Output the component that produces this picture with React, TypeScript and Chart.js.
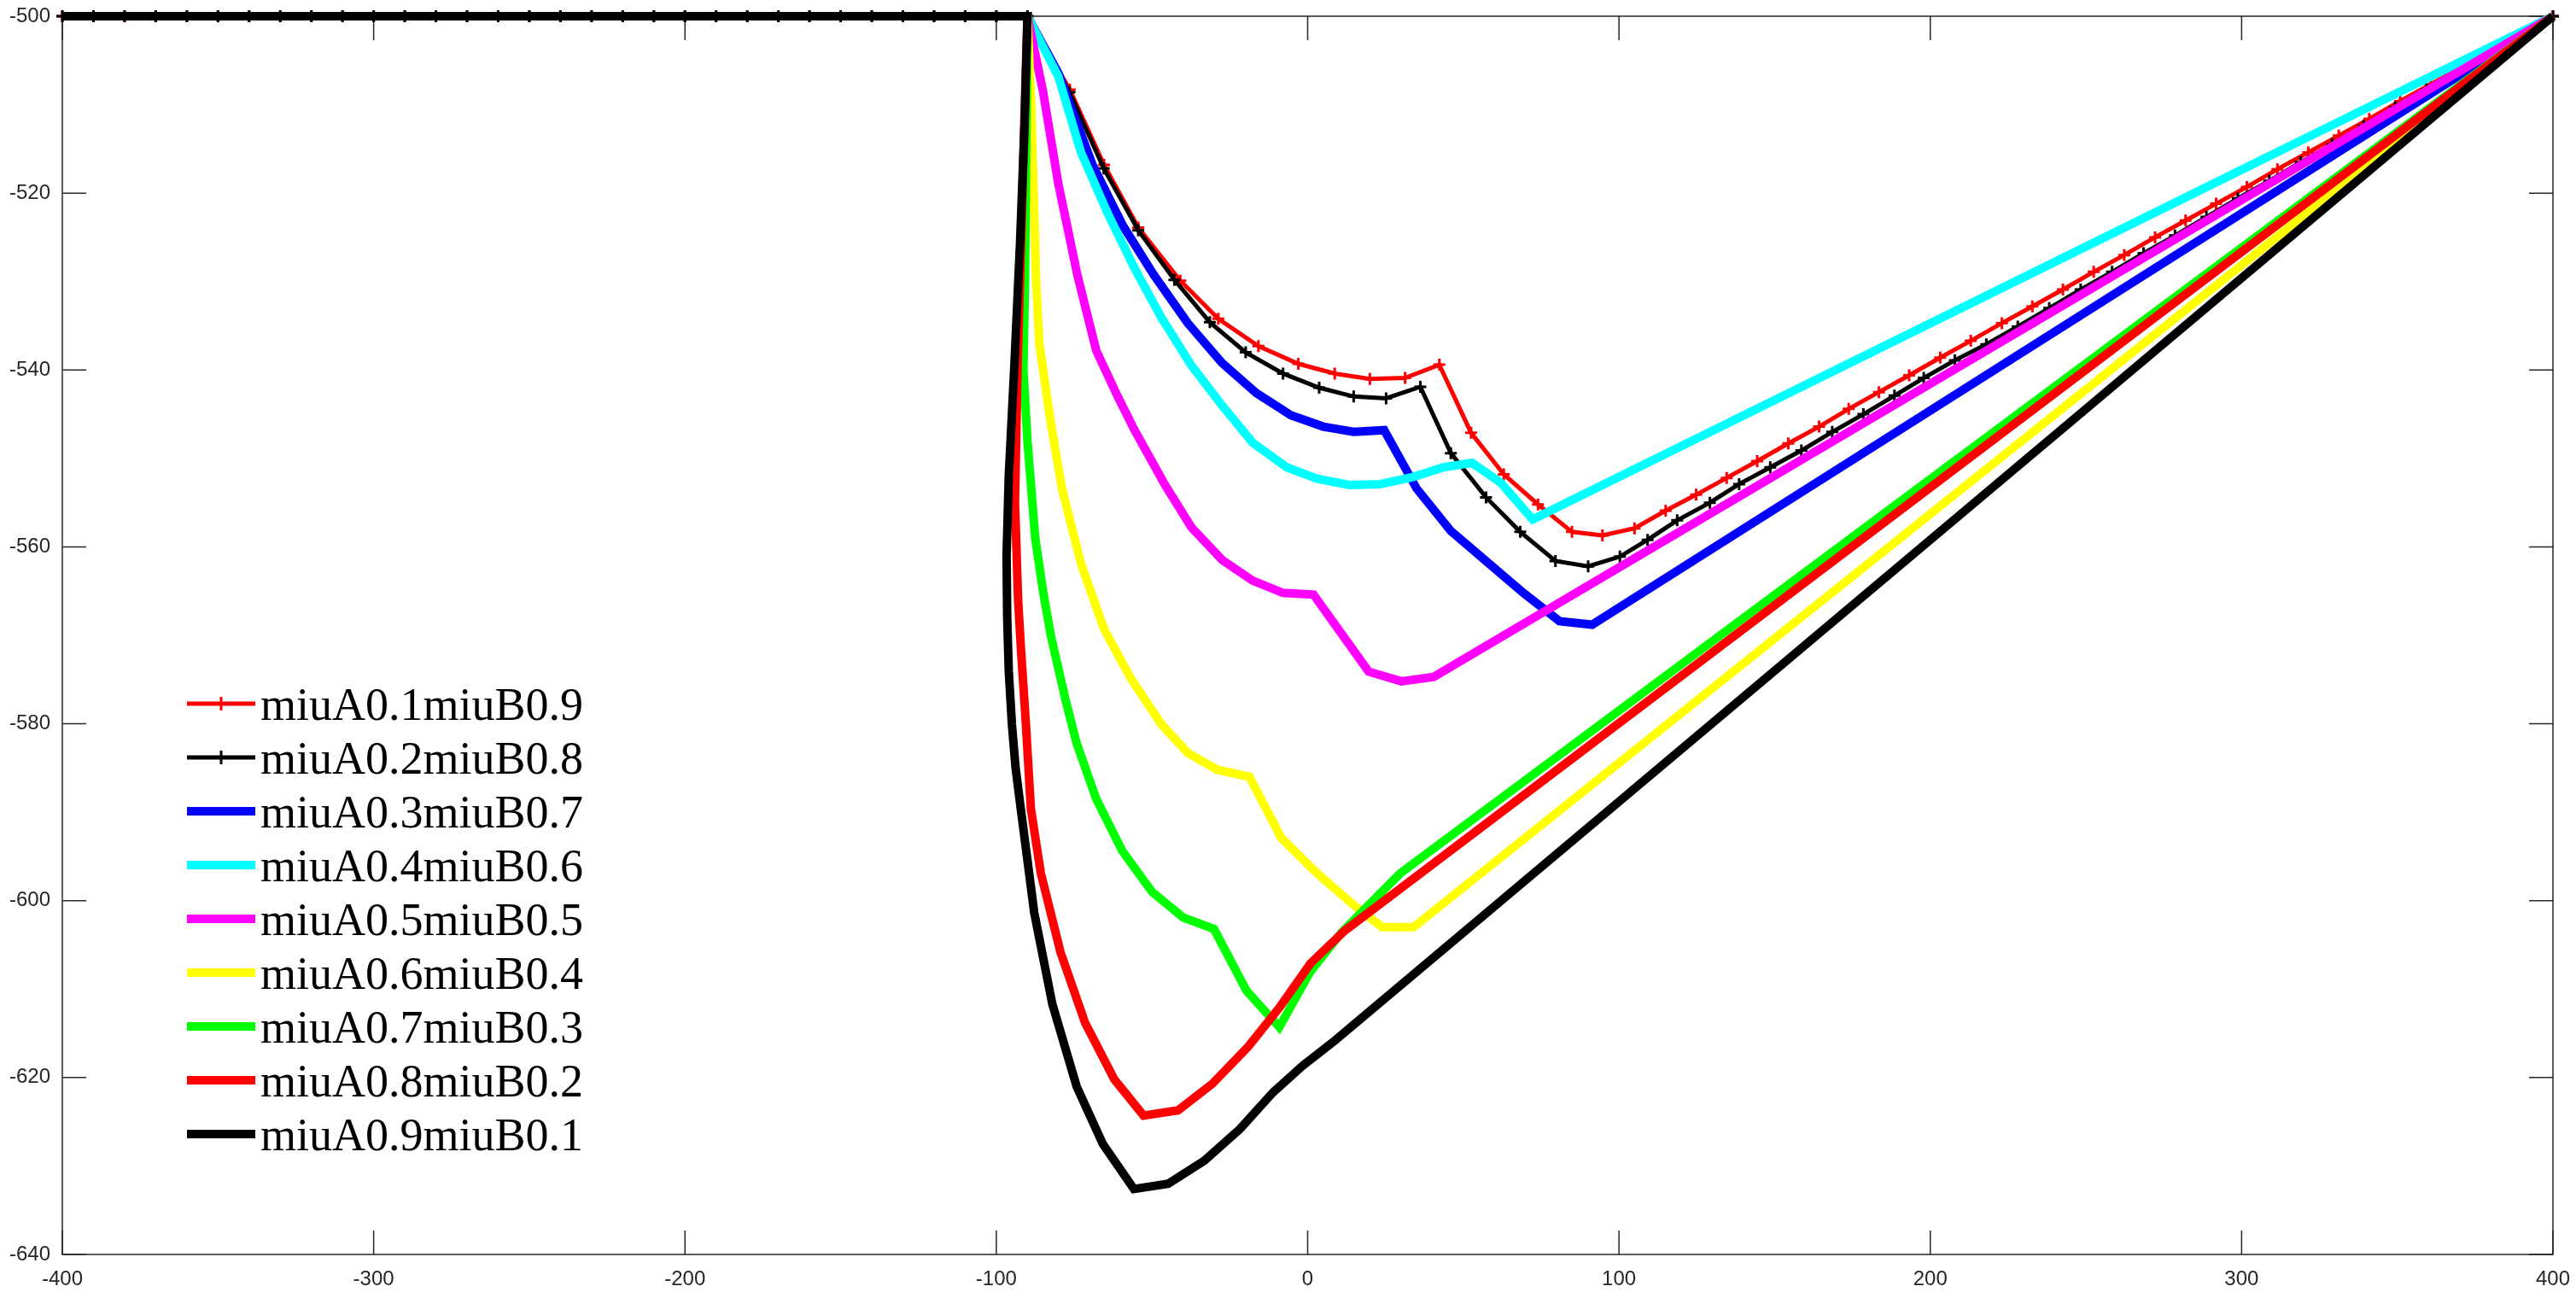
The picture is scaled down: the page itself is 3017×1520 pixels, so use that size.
import React, { useEffect, useRef } from "react";
import { Chart, registerables } from "chart.js";

Chart.register(...registerables);

// ---------- data ----------
const xTickLabels = [-400, -300, -200, -100, 0, 100, 200, 300, 400];
const yTickLabels = [-640, -620, -600, -580, -560, -540, -520, -500];

const flatX = [-400, -390, -380, -370, -360, -350, -340, -330, -320, -310, -300, -290, -280, -270, -260, -250, -240, -230, -220, -210, -200, -190, -180, -170, -160, -150, -140, -130, -120, -110, -100];
const flatY = [-500, -500, -500, -500, -500, -500, -500, -500, -500, -500, -500, -500, -500, -500, -500, -500, -500, -500, -500, -500, -500, -500, -500, -500, -500, -500, -500, -500, -500, -500, -500];

const a1X = [-90, -76.4, -65.4, -54.4, -40.9, -28.7, -15.8, -3, 8.7, 20, 31.3, 42.3, 52.5, 63, 74, 84.9, 94.7, 105, 115, 124.8, 134.6, 144.4, 154.4, 164.3, 173.8, 183.5, 193.2, 203.2, 213, 223, 232.8, 242.6, 252.5, 262.3, 272.2, 282, 291.8, 301.7, 311.5, 321.4, 331.2, 341, 350.9, 360.7, 370.6, 380.4, 390.2, 400];
const a1Y = [-500, -508.3, -516.8, -523.9, -529.9, -534.2, -537.3, -539.3, -540.4, -541.0, -540.9, -539.4, -547.1, -551.8, -555.2, -558.3, -558.7, -557.9, -555.9, -554.1, -552.2, -550.3, -548.3, -546.4, -544.4, -542.5, -540.6, -538.6, -536.7, -534.7, -532.8, -530.9, -528.9, -527.0, -525.0, -523.1, -521.2, -519.3, -517.3, -515.4, -513.5, -511.6, -509.6, -507.7, -505.8, -503.8, -501.9, -500];

const a2X = [-90, -76.5, -65.5, -54.4, -42.8, -31.4, -19.9, -7.9, 3.7, 14.8, 25.2, 36.2, 46, 57.3, 68.3, 79.6, 90.1, 100.3, 109.2, 118.7, 129.2, 138.6, 148.6, 158.6, 168.5, 178.5, 188.5, 197.9, 207.9, 218, 228.1, 238.2, 248.3, 258.4, 268.5, 278.6, 288.7, 298.8, 308.9, 319, 329.1, 339.2, 349.3, 359.4, 369.5, 379.6, 389.7, 400];
const a2Y = [-500, -508.6, -517.2, -524.2, -529.8, -534.6, -538.0, -540.4, -542.0, -543.0, -543.2, -541.9, -549.4, -554.4, -558.3, -561.6, -562.2, -561.1, -559.2, -557.0, -555.0, -552.9, -551.0, -549.1, -547.0, -545.0, -542.9, -540.9, -538.9, -537.1, -535.1, -533.0, -530.9, -528.9, -526.8, -524.8, -522.7, -520.6, -518.6, -516.5, -514.5, -512.4, -510.3, -508.3, -506.2, -504.2, -502.1, -500];

const a3X = [-90, -80.1, -69.1, -59.3, -49.5, -38.5, -27.5, -16.5, -5.4, 5, 14.8, 24.6, 35, 46, 58.3, 69.3, 80.9, 91.4, 400];
const a3Y = [-500, -506.4, -516.8, -523.7, -529.2, -534.7, -539.2, -542.6, -545.1, -546.4, -547.0, -546.8, -553.4, -558.2, -561.9, -565.2, -568.4, -568.8, -500];

const a4X = [-90, -80.1, -72.8, -64.2, -55.6, -47.1, -37.3, -27.5, -17.7, -6.7, 3.1, 13.5, 23.3, 33.8, 43.6, 52.8, 61.9, 72.3, 400];
const a4Y = [-500, -506.8, -515.4, -522.3, -528.5, -534.0, -539.5, -544.0, -548.2, -551.0, -552.3, -553.0, -552.9, -552.1, -551.0, -550.5, -552.7, -556.9, -500];

const a5X = [-90, -85, -80.1, -74, -67.9, -61, -55.6, -45.8, -37.3, -27.4, -17.7, -7.9, 1.9, 19.6, 30.1, 40.5, 400];
const a5Y = [-500, -508.5, -518.9, -529.2, -537.8, -543.0, -546.8, -553.0, -557.8, -561.5, -563.8, -565.2, -565.4, -574.1, -575.2, -574.7, -500];

const a6X = [-90, -88.8, -88, -87.2, -86.2, -82.5, -78.9, -72.8, -65.4, -56.9, -47.1, -38.5, -29, -18.7, -8.5, 3, 15.1, 24, 34, 400];
const a6Y = [-500, -510, -520, -530, -537, -546.0, -553.4, -561.9, -569.3, -574.8, -580.0, -583.3, -585.2, -586.0, -592.9, -596.9, -600.6, -603.0, -603.0, -500];

const a7X = [-90, -90.4, -90.8, -91.3, -90, -87.5, -85, -82.5, -77.7, -74.2, -67.9, -59.5, -50, -40, -30.1, -19.6, -9.1, 0.9, 10.9, 19.3, 29.8, 400];
const a7Y = [-500, -515, -530, -540, -548, -559, -565, -570, -577.4, -582.2, -588.5, -594.4, -599.0, -601.9, -603.2, -610.2, -614.3, -608.0, -603.6, -600.6, -596.9, -500];

const a8X = [-90, -91, -92, -93.2, -94, -93, -92, -90.5, -88.9, -85.7, -79.4, -71.5, -62.1, -52.7, -41.6, -30.6, -19.1, -9.1, 0.9, 11.9, 400];
const a8Y = [-500, -512, -525, -540, -555, -566, -572, -580, -589.6, -596.9, -605.8, -613.8, -620.2, -624.3, -623.7, -620.7, -616.5, -612.1, -607.1, -603.4, -500];

const a9X = [-90, -90.9, -92.4, -94.2, -96, -96.7, -96.5, -96, -95, -93.8, -92, -87.8, -82, -74.2, -65.8, -55.8, -44.8, -33.2, -21.7, -11.2, -1.7, 8.8, 400];
const a9Y = [-500, -512, -525.8, -539.5, -552, -561, -568, -574, -580, -585, -590, -601.4, -611.7, -621.0, -627.5, -632.6, -632.0, -629.4, -625.8, -621.7, -618.7, -615.8, -500];

const seriesLabels = ["miuA0.1miuB0.9", "miuA0.2miuB0.8", "miuA0.3miuB0.7", "miuA0.4miuB0.6", "miuA0.5miuB0.5", "miuA0.6miuB0.4", "miuA0.7miuB0.3", "miuA0.8miuB0.2", "miuA0.9miuB0.1"];
const seriesColors = ["#ff0000", "#000000", "#0000ff", "#00ffff", "#ff00ff", "#ffff00", "#00ff00", "#ff0000", "#000000"];
const seriesMarkers = [true, true, false, false, false, false, false, false, false];
const seriesX = [a1X, a2X, a3X, a4X, a5X, a6X, a7X, a8X, a9X];
const seriesY = [a1Y, a2Y, a3Y, a4Y, a5Y, a6Y, a7Y, a8Y, a9Y];

// ---------- styling ----------
const W = 3017;
const H = 1520;
const THICK = 10;
const THIN = 5;
const MARK_R = 7;
const LEGEND_MARK_R = 8;
const MARK_W = 3;
const AXIS_COLOR = "#262626";
const TICK_FONT = { family: '"Liberation Sans", Arial, sans-serif', size: 24 };

function buildPoints(xs: number[], ys: number[]) {
  const pts: { x: number; y: number }[] = [];
  for (let i = 0; i < flatX.length; i++) pts.push({ x: flatX[i], y: flatY[i] });
  const n = Math.min(xs.length, ys.length);
  for (let i = 0; i < n; i++) pts.push({ x: xs[i], y: ys[i] });
  return pts;
}

const framePlugin = {
  id: "matlabFrame",
  beforeDatasetsDraw(chart: any) {
    const { ctx, chartArea: a, scales } = chart;
    const L = 28;
    ctx.save();
    ctx.strokeStyle = AXIS_COLOR;
    ctx.lineWidth = 1.5;
    ctx.strokeRect(a.left, a.top, a.right - a.left, a.bottom - a.top);
    ctx.beginPath();
    scales.x.ticks.forEach((t: any) => {
      const px = scales.x.getPixelForValue(t.value);
      ctx.moveTo(px, a.bottom);
      ctx.lineTo(px, a.bottom - L);
      ctx.moveTo(px, a.top);
      ctx.lineTo(px, a.top + L);
    });
    scales.y.ticks.forEach((t: any) => {
      const py = scales.y.getPixelForValue(t.value);
      ctx.moveTo(a.left, py);
      ctx.lineTo(a.left + L, py);
      ctx.moveTo(a.right, py);
      ctx.lineTo(a.right - L, py);
    });
    ctx.stroke();
    ctx.restore();
  },
};

const legendPlugin = {
  id: "matlabLegend",
  afterDatasetsDraw(chart: any) {
    const { ctx, chartArea: a } = chart;
    const n = chart.data.datasets.length;
    const rowH = 63;
    const lastRowY = a.bottom - 141;
    const x0 = a.left + 146;
    const x1 = a.left + 226;
    const textX = a.left + 232;
    ctx.save();
    chart.data.datasets.forEach((ds: any, i: number) => {
      const y = lastRowY - (n - 1 - i) * rowH;
      ctx.strokeStyle = ds.borderColor;
      ctx.lineWidth = ds.borderWidth;
      ctx.lineCap = "butt";
      ctx.beginPath();
      ctx.moveTo(x0, y);
      ctx.lineTo(x1, y);
      ctx.stroke();
      if (ds.pointRadius > 0) {
        const cx = (x0 + x1) / 2;
        ctx.lineWidth = MARK_W;
        ctx.beginPath();
        ctx.moveTo(cx - LEGEND_MARK_R, y);
        ctx.lineTo(cx + LEGEND_MARK_R, y);
        ctx.moveTo(cx, y - LEGEND_MARK_R);
        ctx.lineTo(cx, y + LEGEND_MARK_R);
        ctx.stroke();
      }
      ctx.fillStyle = "#000000";
      ctx.font = '54px "Liberation Serif", "Times New Roman", serif';
      ctx.textAlign = "left";
      ctx.textBaseline = "alphabetic";
      ctx.fillText(ds.label, textX, y + 19);
    });
    ctx.restore();
  },
};

export default function App() {
  const ref = useRef<HTMLCanvasElement | null>(null);

  useEffect(() => {
    document.body.style.margin = "0";
    const canvas = ref.current;
    if (!canvas) return;
    const n = seriesLabels.length;
    const datasets = seriesLabels.map((label, i) => ({
      label,
      data: buildPoints(seriesX[i], seriesY[i]),
      order: n - i,
      borderColor: seriesColors[i],
      backgroundColor: seriesColors[i],
      borderWidth: seriesMarkers[i] ? THIN : THICK,
      pointStyle: "cross" as const,
      pointRadius: seriesMarkers[i] ? MARK_R : 0,
      pointHoverRadius: seriesMarkers[i] ? MARK_R : 0,
      pointBorderWidth: MARK_W,
      pointBorderColor: seriesColors[i],
      tension: 0,
      fill: false,
      clip: false as const,
    }));

    const chart = new Chart(canvas, {
      type: "line",
      data: { datasets },
      options: {
        animation: false,
        responsive: false,
        devicePixelRatio: 1,
        events: [],
        layout: { padding: { left: 0, top: 19, right: 27, bottom: 0 } },
        plugins: {
          legend: { display: false },
          tooltip: { enabled: false },
        },
        scales: {
          x: {
            type: "linear",
            min: xTickLabels[0],
            max: xTickLabels[xTickLabels.length - 1],
            grid: { display: false, drawTicks: false },
            border: { display: false },
            ticks: {
              stepSize: 100,
              autoSkip: false,
              maxRotation: 0,
              padding: 15,
              color: AXIS_COLOR,
              font: TICK_FONT,
            },
            afterFit(scale: any) {
              scale.height = 51;
              scale.paddingLeft = 0;
              scale.paddingRight = 0;
              scale.paddingTop = 0;
              scale.paddingBottom = 0;
            },
          },
          y: {
            type: "linear",
            min: yTickLabels[0],
            max: yTickLabels[yTickLabels.length - 1],
            grid: { display: false, drawTicks: false },
            border: { display: false },
            ticks: {
              stepSize: 20,
              autoSkip: false,
              padding: 14,
              color: AXIS_COLOR,
              font: TICK_FONT,
            },
            afterFit(scale: any) {
              scale.width = 73;
              scale.paddingTop = 0;
              scale.paddingBottom = 0;
              scale.paddingLeft = 0;
              scale.paddingRight = 0;
            },
          },
        },
      },
      plugins: [framePlugin, legendPlugin],
    });
    return () => chart.destroy();
  }, []);

  return (
    <div style={{ width: W, height: H, background: "#ffffff" }}>
      <canvas ref={ref} width={W} height={H} style={{ display: "block", width: W, height: H }} />
    </div>
  );
}
